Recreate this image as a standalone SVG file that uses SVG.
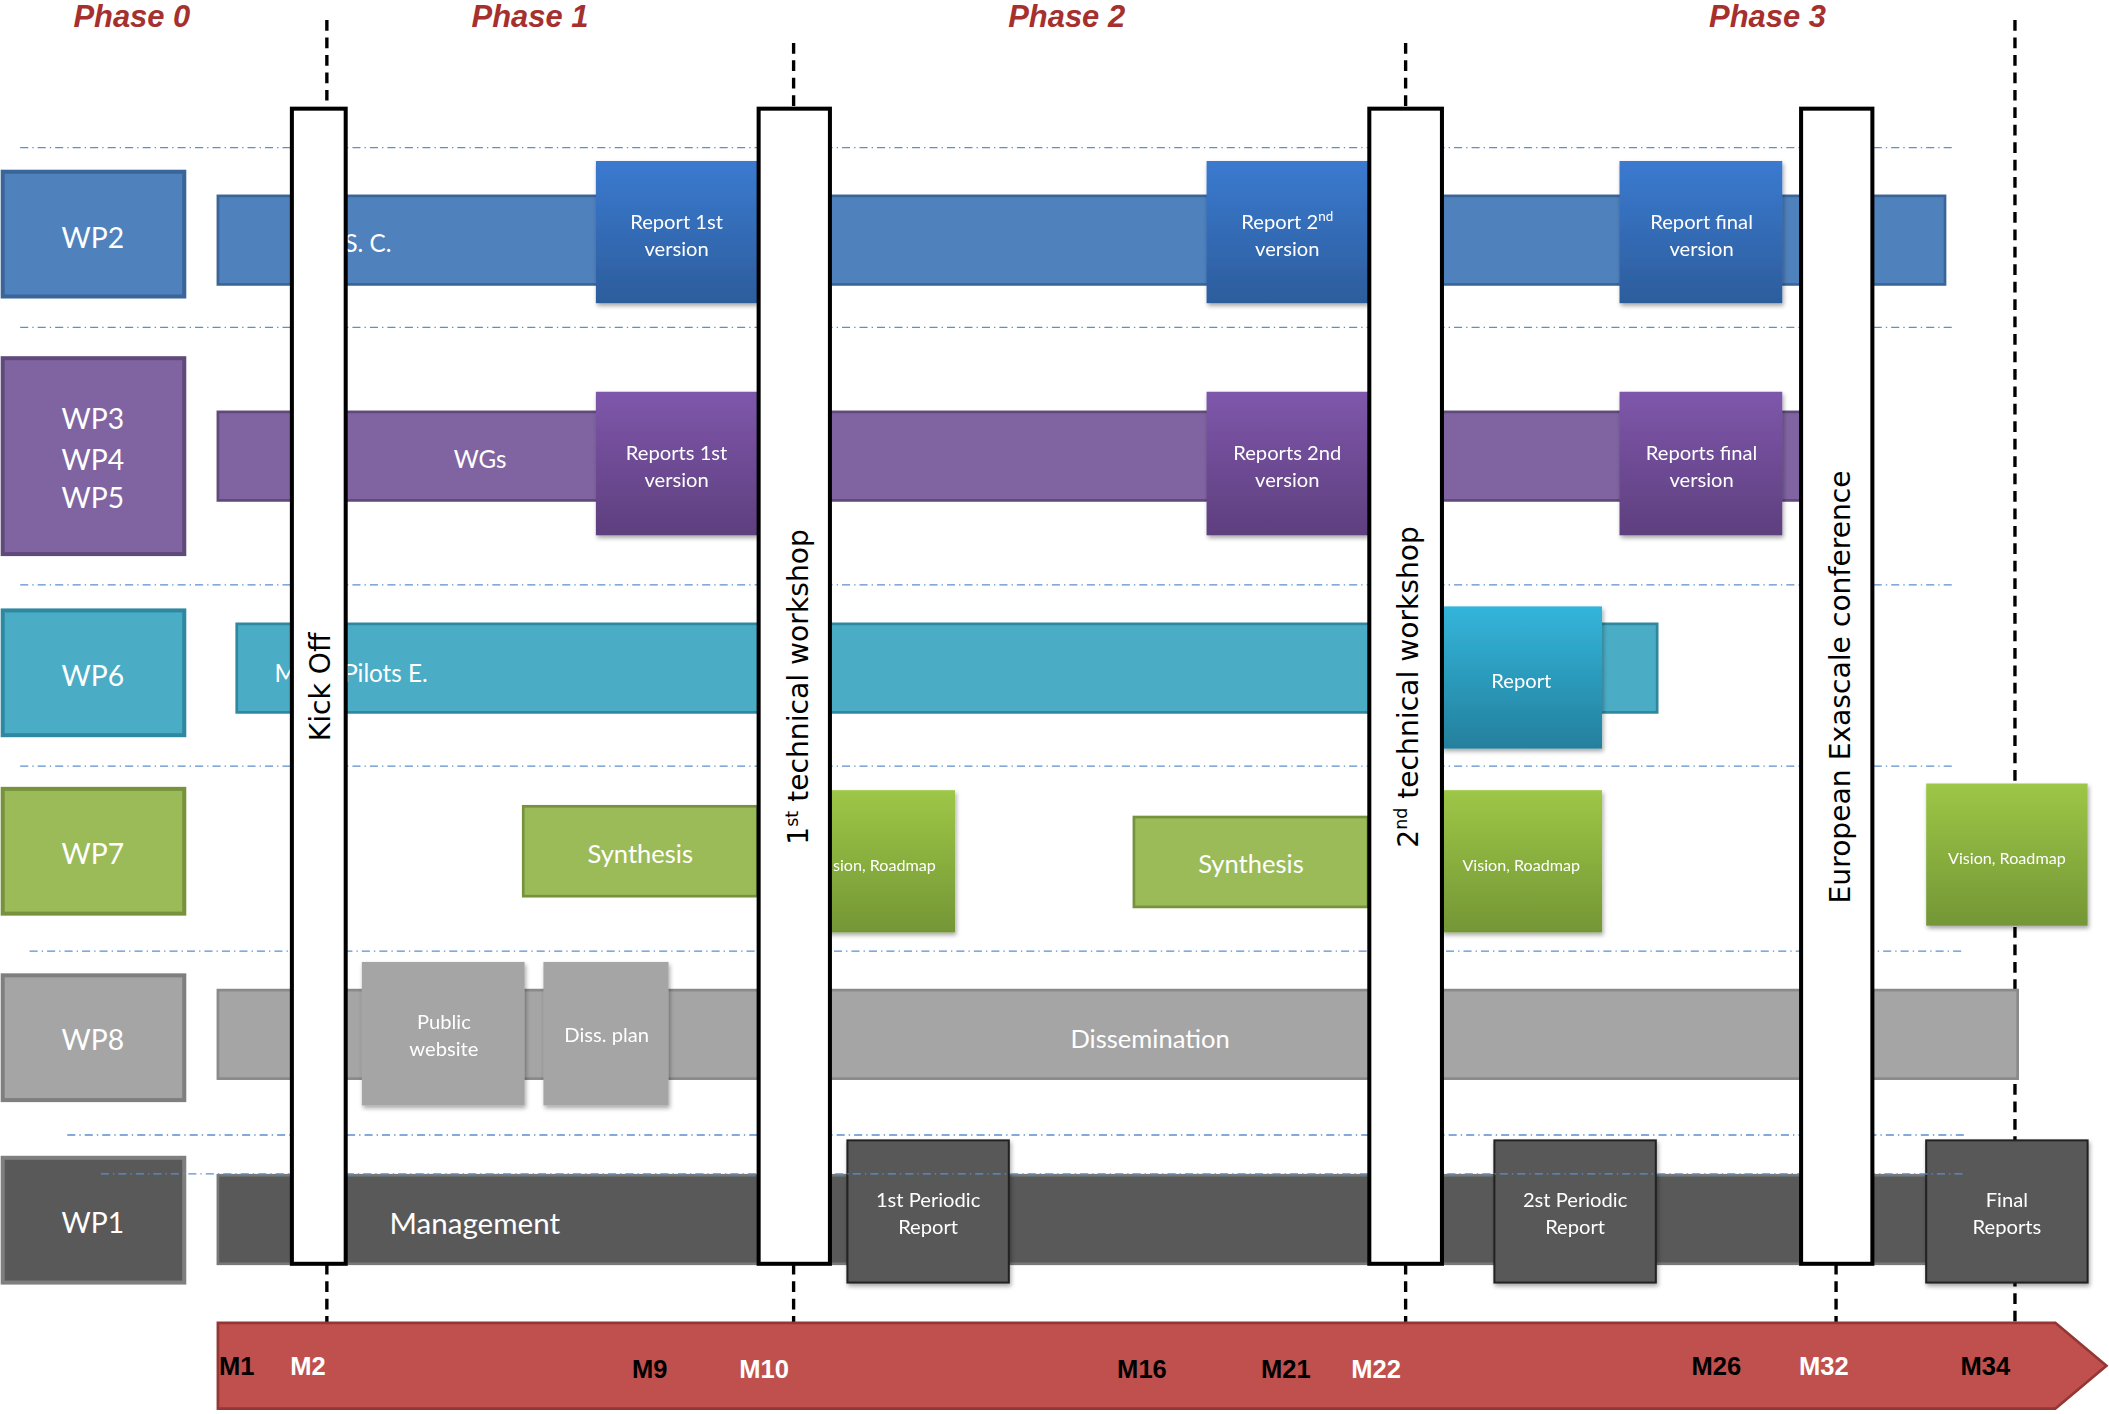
<svg xmlns="http://www.w3.org/2000/svg" width="2109" height="1414" viewBox="0 0 2109 1414">
<defs>
<linearGradient id="gb" x1="0" y1="0" x2="0" y2="1"><stop offset="0" stop-color="#3b7ad0"/><stop offset="1" stop-color="#2c5d9c"/></linearGradient>
<linearGradient id="gp" x1="0" y1="0" x2="0" y2="1"><stop offset="0" stop-color="#7e57ab"/><stop offset="1" stop-color="#5e3f7e"/></linearGradient>
<linearGradient id="gc" x1="0" y1="0" x2="0" y2="1"><stop offset="0" stop-color="#33b5da"/><stop offset="1" stop-color="#24809d"/></linearGradient>
<linearGradient id="gg" x1="0" y1="0" x2="0" y2="1"><stop offset="0" stop-color="#9dc746"/><stop offset="1" stop-color="#749636"/></linearGradient>
<filter id="sh" x="-10%" y="-10%" width="130%" height="130%"><feDropShadow dx="1" dy="2" stdDeviation="1.5" flood-opacity="0.35"/></filter>
</defs>
<style>
.ph{font-family:"Liberation Sans",sans-serif;font-weight:bold;font-style:italic;font-size:23px;fill:#a5302e;text-anchor:middle}
.dl{stroke:#5b8fd0;stroke-width:1;stroke-dasharray:6 3 1 3;fill:none}
.t{font-family:Lato,"Open Sans",sans-serif;fill:#fff;text-anchor:middle}
.wp{font-size:21px}
.s{font-size:15px}
.vb{fill:#fff;stroke:#000;stroke-width:3}
.vt{font-family:"DejaVu Sans",sans-serif;font-size:21px;fill:#000;text-anchor:middle}
.dash{stroke:#000;stroke-width:2.5;stroke-dasharray:8 5;fill:none}
.m{font-family:"Liberation Sans",sans-serif;font-weight:bold;font-size:19px;text-anchor:middle}
</style>
<g transform="scale(1.3451,1.3416)">
<g id="phases">
<text class="ph" x="98" y="20">Phase 0</text>
<text class="ph" x="394" y="20">Phase 1</text>
<text class="ph" x="793" y="20">Phase 2</text>
<text class="ph" x="1314" y="20">Phase 3</text>
</g>
<g id="gridlines">
<line class="dl" x1="15" y1="110" x2="1452" y2="110"/>
<line class="dl" x1="15" y1="244" x2="1452" y2="244"/>
<line class="dl" x1="15" y1="436" x2="1452" y2="436"/>
<line class="dl" x1="15" y1="571" x2="1452" y2="571"/>
<line class="dl" x1="22" y1="709" x2="1460" y2="709"/>
<line class="dl" x1="50" y1="846" x2="1460" y2="846"/>
</g>
<g id="connectors">
<line class="dash" x1="1498" y1="15" x2="1498" y2="988"/>
<line class="dash" x1="243" y1="15" x2="243" y2="81"/>
<line class="dash" x1="243" y1="942" x2="243" y2="988"/>
<line class="dash" x1="590" y1="32" x2="590" y2="81"/>
<line class="dash" x1="590" y1="942" x2="590" y2="988"/>
<line class="dash" x1="1045" y1="32" x2="1045" y2="81"/>
<line class="dash" x1="1045" y1="942" x2="1045" y2="988"/>
<line class="dash" x1="1365" y1="942" x2="1365" y2="988"/>
</g>
<g id="wp-labels">
<g id="wp2"><rect x="2" y="128" width="135" height="93" fill="#4f81bd" stroke="#3a6599" stroke-width="3"/><text class="t wp" x="69" y="185">WP2</text></g>
<g id="wp345"><rect x="2" y="267" width="135" height="146" fill="#8064a2" stroke="#5f4a7a" stroke-width="3"/><text class="t wp" x="69" y="320">WP3</text><text class="t wp" x="69" y="350">WP4</text><text class="t wp" x="69" y="379">WP5</text></g>
<g id="wp6"><rect x="2" y="455" width="135" height="93" fill="#4bacc6" stroke="#2f88a0" stroke-width="3"/><text class="t wp" x="69" y="511">WP6</text></g>
<g id="wp7"><rect x="2" y="588" width="135" height="93" fill="#9bbb59" stroke="#76923c" stroke-width="3"/><text class="t wp" x="69" y="644">WP7</text></g>
<g id="wp8"><rect x="2" y="727" width="135" height="93" fill="#a5a5a5" stroke="#7f7f7f" stroke-width="3"/><text class="t wp" x="69" y="783">WP8</text></g>
<g id="wp1"><rect x="2" y="863" width="135" height="93" fill="#595959" stroke="#7f7f7f" stroke-width="3"/><text class="t wp" x="69" y="919">WP1</text></g>
</g>
<g id="bars">
<rect x="162" y="146" width="1284" height="66" fill="#4f81bd" stroke="#3a6599" stroke-width="2"/>
<text class="t" x="257" y="188" font-size="18" text-anchor="start">du., S. C.</text>
<rect x="162" y="307" width="1178" height="66" fill="#8064a2" stroke="#5f4a7a" stroke-width="2"/>
<text class="t" x="357" y="349" font-size="18">WGs</text>
<rect x="176" y="465" width="1056" height="66" fill="#4bacc6" stroke="#2f88a0" stroke-width="2"/>
<text class="t" x="261" y="508" font-size="18" text-anchor="start">Meth, Pilots E.</text>
<rect x="162" y="738" width="1338" height="66" fill="#a5a5a5" stroke="#8a8a8a" stroke-width="2"/>
<text class="t" x="855" y="781" font-size="19">Dissemination</text>
<rect x="162" y="876" width="1280" height="66" fill="#595959" stroke="#777" stroke-width="2"/>
<text class="t" x="353" y="920" font-size="22">Management</text>
</g>
<g id="milestones" filter="url(#sh)">
<g id="r2a"><rect x="443" y="120" width="120" height="106" fill="url(#gb)"/><text class="t s" x="503" y="171">Report 1st</text><text class="t s" x="503" y="191">version</text></g>
<g id="r2b"><rect x="897" y="120" width="120" height="106" fill="url(#gb)"/><text class="t s" x="957" y="171">Report 2<tspan font-size="10" dy="-6">nd</tspan></text><text class="t s" x="957" y="191">version</text></g>
<g id="r2c"><rect x="1204" y="120" width="121" height="106" fill="url(#gb)"/><text class="t s" x="1265" y="171">Report final</text><text class="t s" x="1265" y="191">version</text></g>
<g id="r3a"><rect x="443" y="292" width="120" height="107" fill="url(#gp)"/><text class="t s" x="503" y="343">Reports 1st</text><text class="t s" x="503" y="363">version</text></g>
<g id="r3b"><rect x="897" y="292" width="120" height="107" fill="url(#gp)"/><text class="t s" x="957" y="343">Reports 2nd</text><text class="t s" x="957" y="363">version</text></g>
<g id="r3c"><rect x="1204" y="292" width="121" height="107" fill="url(#gp)"/><text class="t s" x="1265" y="343">Reports final</text><text class="t s" x="1265" y="363">version</text></g>
<g id="r6"><rect x="1072" y="452" width="119" height="106" fill="url(#gc)"/><text class="t s" x="1131" y="513">Report</text></g>
<g id="v1"><rect x="590" y="589" width="120" height="106" fill="url(#gg)"/><text class="t" font-size="12" x="652" y="649">Vision, Roadmap</text></g>
<g id="v2"><rect x="1072" y="589" width="119" height="106" fill="url(#gg)"/><text class="t" font-size="12" x="1131" y="649">Vision, Roadmap</text></g>
<g id="v3"><rect x="1432" y="584" width="120" height="106" fill="url(#gg)"/><text class="t" font-size="12" x="1492" y="644">Vision, Roadmap</text></g>
<g id="pw"><rect x="269" y="717" width="121" height="107" fill="#a5a5a5"/><text class="t s" x="330" y="767">Public</text><text class="t s" x="330" y="787">website</text></g>
<g id="dp"><rect x="404" y="717" width="93" height="107" fill="#a5a5a5"/><text class="t s" x="451" y="777">Diss. plan</text></g>
<g id="p1"><rect x="630" y="850" width="120" height="106" fill="#595959" stroke="#222" stroke-width="1.5"/><text class="t s" x="690" y="900">1st Periodic</text><text class="t s" x="690" y="920">Report</text></g>
<g id="p2"><rect x="1111" y="850" width="120" height="106" fill="#595959" stroke="#222" stroke-width="1.5"/><text class="t s" x="1171" y="900">2st Periodic</text><text class="t s" x="1171" y="920">Report</text></g>
<g id="p3"><rect x="1432" y="850" width="120" height="106" fill="#595959" stroke="#222" stroke-width="1.5"/><text class="t s" x="1492" y="900">Final</text><text class="t s" x="1492" y="920">Reports</text></g>
</g>
<g id="synth">
<rect x="389" y="601" width="174" height="67" fill="#9bbb59" stroke="#76923c" stroke-width="2"/><text class="t" font-size="19" x="476" y="643">Synthesis</text>
<rect x="843" y="609" width="174" height="67" fill="#9bbb59" stroke="#76923c" stroke-width="2"/><text class="t" font-size="19" x="930" y="651">Synthesis</text>
</g>
<g id="line-last"><line class="dl" x1="75" y1="875" x2="1460" y2="875"/></g>
<g id="events">
<g id="kickoff"><rect class="vb" x="217" y="81" width="40" height="861"/><text class="vt" transform="translate(245,512) rotate(-90)">Kick Off</text></g>
<g id="ws1"><rect class="vb" x="564" y="81" width="53" height="861"/><text class="vt" transform="translate(601,512) rotate(-90)">1<tspan font-size="13" dy="-8">st</tspan><tspan dy="8"> technical workshop</tspan></text></g>
<g id="ws2"><rect class="vb" x="1018" y="81" width="54" height="861"/><text class="vt" transform="translate(1054,512) rotate(-90)">2<tspan font-size="13" dy="-8">nd</tspan><tspan dy="8"> technical workshop</tspan></text></g>
<g id="conf"><rect class="vb" x="1339" y="81" width="53" height="861"/><text class="vt" transform="translate(1375,512) rotate(-90)">European Exascale conference</text></g>
</g>
<g id="timeline">
<polygon points="162,986 1528,986 1566,1018 1528,1050 162,1050" fill="#c0504d" stroke="#943634" stroke-width="2"/>
<text class="m" x="176" y="1025" fill="#000">M1</text>
<text class="m" x="229" y="1025" fill="#fff">M2</text>
<text class="m" x="483" y="1027" fill="#000">M9</text>
<text class="m" x="568" y="1027" fill="#fff">M10</text>
<text class="m" x="849" y="1027" fill="#000">M16</text>
<text class="m" x="956" y="1027" fill="#000">M21</text>
<text class="m" x="1023" y="1027" fill="#fff">M22</text>
<text class="m" x="1276" y="1025" fill="#000">M26</text>
<text class="m" x="1356" y="1025" fill="#fff">M32</text>
<text class="m" x="1476" y="1025" fill="#000">M34</text>
</g>
</g>
</svg>
